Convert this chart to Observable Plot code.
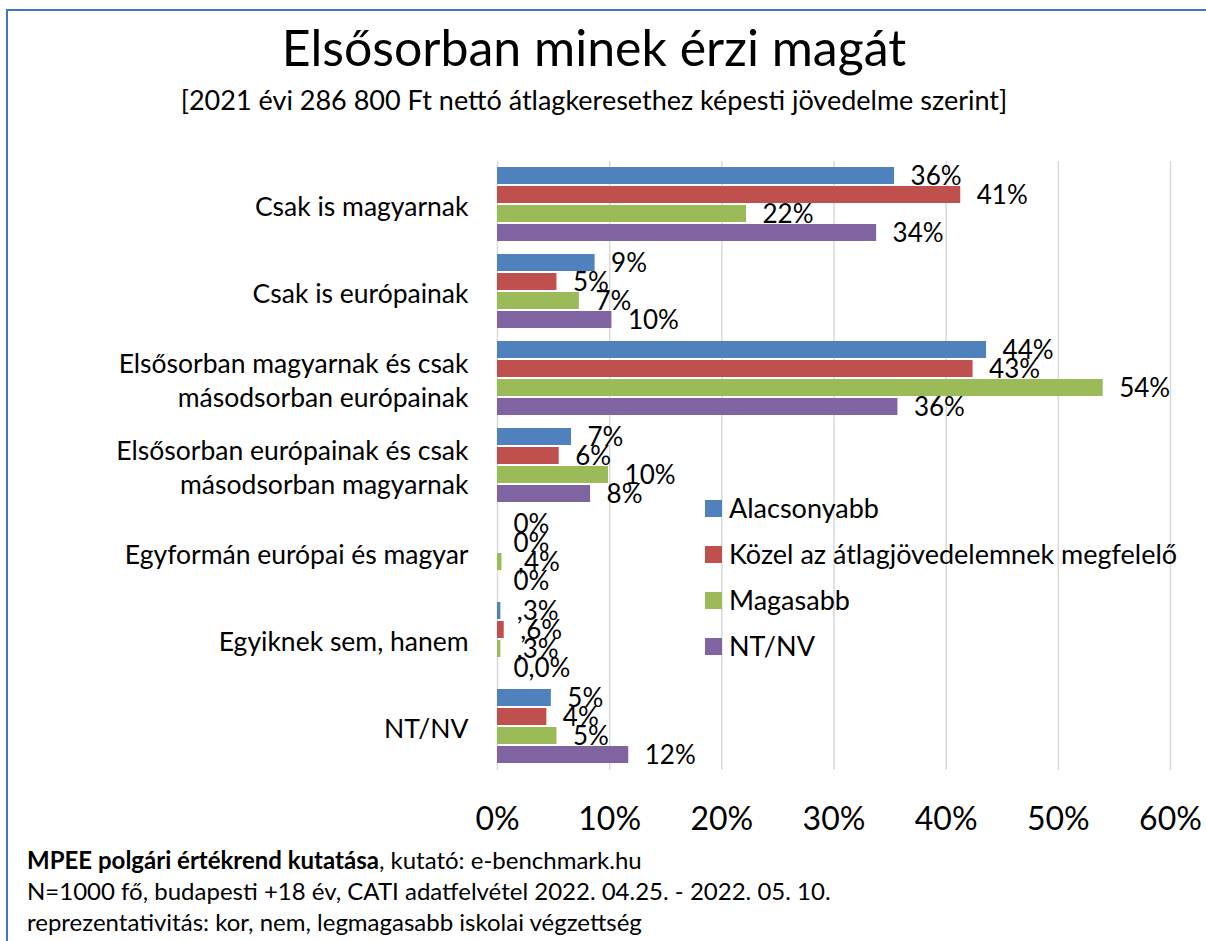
<!DOCTYPE html>
<html><head><meta charset="utf-8">
<script src="https://cdn.jsdelivr.net/npm/d3@7"></script>
<script src="https://cdn.jsdelivr.net/npm/@observablehq/plot@0.6"></script>
<style>
body{margin:0;background:#fff;font-family:Lato,"Open Sans",sans-serif;color:#000}
#wrap{position:relative;width:1206px;height:941px;overflow:hidden;background:#fff}
.abs{position:absolute}
</style></head>
<body><div id="wrap"></div>
<script>
const title = "Elsősorban minek érzi magát";
const subtitle = "[2021 évi 286 800 Ft nettó átlagkeresethez képesti jövedelme szerint]";
const categories = [
  "Csak is magyarnak",
  "Csak is európainak",
  "Elsősorban magyarnak és csak\nmásodsorban európainak",
  "Elsősorban európainak és csak\nmásodsorban magyarnak",
  "Egyformán európai és magyar",
  "Egyiknek sem, hanem",
  "NT/NV"
];
const series = ["Alacsonyabb", "Közel az átlagjövedelemnek megfelelő", "Magasabb", "NT/NV"];
const colors = ["#4F81BD", "#C0504D", "#9BBB59", "#8064A2"];
const valAlacsonyabb = [35.4, 8.7, 43.6, 6.6, 0, 0.3, 4.8];
const valKozel      = [41.3, 5.3, 42.4, 5.5, 0, 0.6, 4.4];
const valMagasabb   = [22.2, 7.3, 54.0, 9.9, 0.4, 0.3, 5.3];
const valNTNV       = [33.8, 10.2, 35.7, 8.3, 0, 0.0, 11.7];
const lblAlacsonyabb = ["36%", "9%", "44%", "7%", "0%", ",3%", "5%"];
const lblKozel      = ["41%", "5%", "43%", "6%", "0%", ",6%", "4%"];
const lblMagasabb   = ["22%", "7%", "54%", "10%", ",4%", ",3%", "5%"];
const lblNTNV       = ["34%", "10%", "36%", "8%", "0%", "0,0%", "12%"];
const xTicks = [0, 10, 20, 30, 40, 50, 60];
const footerBold = "MPEE polgári értékrend kutatása";
const footerLines = [", kutató: e-benchmark.hu",
  "N=1000 fő, budapesti +18 év, CATI adatfelvétel 2022. 04.25. - 2022. 05. 10.",
  "reprezentativitás: kor, nem, legmagasabb iskolai végzettség"];

const values = [valAlacsonyabb, valKozel, valMagasabb, valNTNV];
const labels = [lblAlacsonyabb, lblKozel, lblMagasabb, lblNTNV];
const data = [];
categories.forEach((c, i) => series.forEach((s, j) => data.push({category: c, series: s, value: values[j][i], label: labels[j][i]})));

const wrap = document.getElementById("wrap");
function div(style, html) { const d = document.createElement("div"); d.className = "abs"; d.style.cssText = style; if (html != null) d.innerHTML = html; wrap.appendChild(d); return d; }

// frame border
div("left:6px;top:9px;width:2px;height:940px;background:#4472C4");
div("left:6px;top:9px;width:1200px;height:2px;background:#4472C4");

div("left:0;top:14px;width:1188px;text-align:center;font-size:50px;line-height:66px;white-space:nowrap", title);
div("left:0;top:82px;width:1188px;text-align:center;font-size:27px;line-height:36px;white-space:nowrap", subtitle);

const chart = Plot.plot({
  width: 1206, height: 690,
  marginLeft: 497, marginRight: 36, marginTop: 10, marginBottom: 70,
  style: {fontFamily: "Lato, sans-serif", fontSize: "26px", background: "transparent", color: "#000"},
  x: {domain: [0, 60], label: null},
  fy: {domain: categories, padding: 0, axis: null, label: null},
  y: {domain: series, paddingInner: 0.1, paddingOuter: 0.26, axis: null, label: null},
  color: {domain: series, range: colors},
  marks: [
    Plot.gridX(xTicks, {stroke: "#D9D9D9", strokeOpacity: 1, strokeWidth: 1.5}),
    Plot.axisX(xTicks, {tickSize: 0, tickPadding: 37, fontSize: 32, tickFormat: d => d + "%", label: null}),
    Plot.barX(data, {x: "value", y: "series", fy: "category", fill: "series", inset: 0}),
    Plot.text(data, {x: "value", y: "series", fy: "category", text: "label", textAnchor: "start", dx: 16, dy: 1, fontSize: 26, fill: "#000"}),
    Plot.text(categories, {fy: d => d, text: d => d, frameAnchor: "left", dx: -29, textAnchor: "end", lineHeight: 1.28, fontSize: 26.5, fill: "#000"})
  ]
});
const pd = div("left:0;top:150px;width:1206px;height:690px");
pd.appendChild(chart);

series.forEach((s, j) => {
  const cy = 508 + j * 46;
  div(`left:705px;top:${cy - 8}px;width:17px;height:17px;background:${colors[j]}`);
  div(`left:729px;top:${cy - 19}px;font-size:27px;line-height:38px;white-space:nowrap`, s);
});

div("left:27px;top:844px;font-size:24px;line-height:31px;white-space:nowrap",
  `<b>${footerBold}</b>${footerLines[0]}<br>${footerLines[1]}<br>${footerLines[2]}`);
</script></body></html>
